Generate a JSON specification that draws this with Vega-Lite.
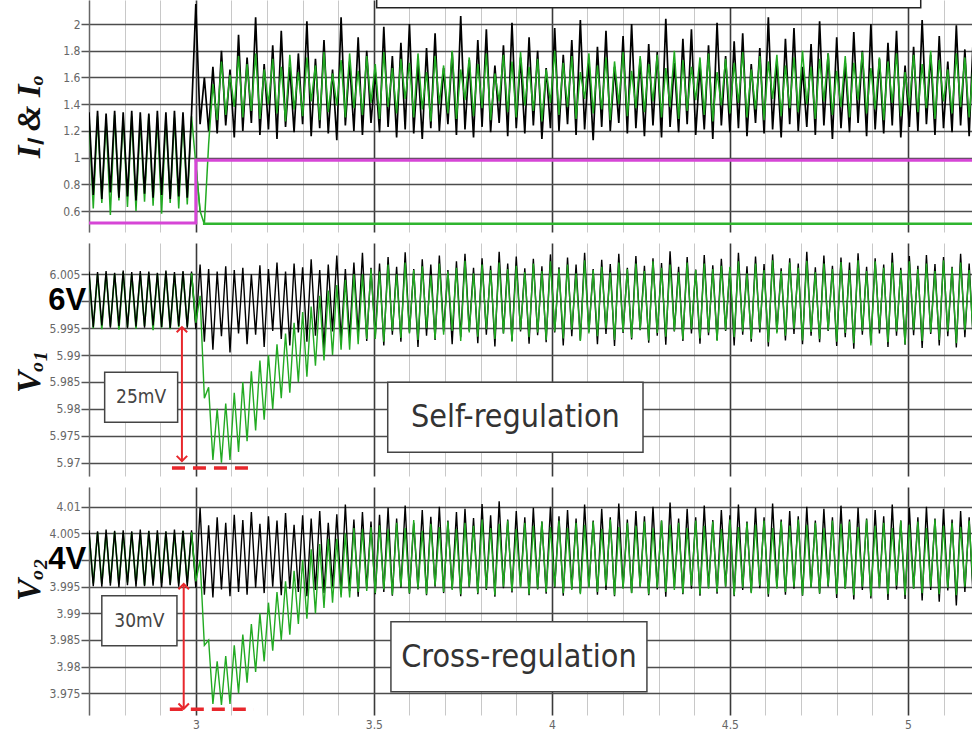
{
"$schema":"https://vega.github.io/schema/vega-lite/v6.json",
"background":"#ffffff",
"padding":{"left":13,"top":0,"right":0,"bottom":0},
"spacing":11,
"config":{
 "view":{"stroke":null},
 "axisY":{"labelFont":"DejaVu Sans Condensed, sans-serif","labelFontSize":12,"labelColor":"#666666","labelPadding":1,"tickColor":"#555555","tickSize":8,"tickWidth":1.5,"gridColor":"#4d4d4d","gridWidth":1.5,"domainColor":"#666666","domainWidth":1.5,"titleFont":"Liberation Serif","titleFontStyle":"italic","titleFontWeight":"bold","titleFontSize":33,"titleColor":"#111111","titleX":-60,"titleBaseline":"middle","labelOverlap":false},
 "axisX":{"labelFont":"DejaVu Sans Condensed, sans-serif","labelFontSize":12,"labelColor":"#666666","labelPadding":4,"ticks":false,"domain":false,"labelOverlap":false,"labelFlush":false,"title":null}
},
"datasets":{
"w":[
{"t":2.7,"a":1.34,"b":1.3,"c":6.0055,"d":6.0052,"e":4.0056,"f":4.0051},
{"t":2.712,"a":0.72,"b":0.62,"c":5.9952,"d":5.995,"e":3.9951,"f":3.9956},
{"t":2.724,"a":1.35,"b":1.31,"c":6.0054,"d":6.005,"e":4.0054,"f":4.0052},
{"t":2.736,"a":0.69,"b":0.66,"c":5.9955,"d":5.9948,"e":3.995,"f":3.9955},
{"t":2.748,"a":1.33,"b":1.29,"c":6.0056,"d":6.0053,"e":4.0057,"f":4.005},
{"t":2.76,"a":0.74,"b":0.57,"c":5.9951,"d":5.9953,"e":3.9952,"f":3.9957},
{"t":2.772,"a":1.35,"b":1.32,"c":6.0053,"d":6.0051,"e":4.0055,"f":4.0053},
{"t":2.784,"a":0.7,"b":0.68,"c":5.9954,"d":5.9947,"e":3.9949,"f":3.9954},
{"t":2.796,"a":1.34,"b":1.3,"c":6.0057,"d":6.0054,"e":4.0056,"f":4.0051},
{"t":2.808,"a":0.71,"b":0.63,"c":5.995,"d":5.9952,"e":3.9953,"f":3.9958},
{"t":2.82,"a":1.35,"b":1.31,"c":6.0054,"d":6.005,"e":4.0054,"f":4.0052},
{"t":2.832,"a":0.68,"b":0.6,"c":5.9953,"d":5.9949,"e":3.995,"f":3.9955},
{"t":2.844,"a":1.34,"b":1.29,"c":6.0056,"d":6.0052,"e":4.0057,"f":4.005},
{"t":2.856,"a":0.73,"b":0.67,"c":5.9951,"d":5.9954,"e":3.9951,"f":3.9953},
{"t":2.868,"a":1.33,"b":1.32,"c":6.0055,"d":6.0053,"e":4.0055,"f":4.0054},
{"t":2.88,"a":0.7,"b":0.64,"c":5.9955,"d":5.9946,"e":3.9952,"f":3.9956},
{"t":2.892,"a":1.35,"b":1.3,"c":6.0053,"d":6.0051,"e":4.0056,"f":4.0051},
{"t":2.904,"a":0.72,"b":0.58,"c":5.9952,"d":5.9951,"e":3.9949,"f":3.9957},
{"t":2.916,"a":1.34,"b":1.31,"c":6.0057,"d":6.0055,"e":4.0054,"f":4.0053},
{"t":2.928,"a":0.69,"b":0.66,"c":5.995,"d":5.9948,"e":3.9953,"f":3.9954},
{"t":2.94,"a":1.35,"b":1.3,"c":6.0054,"d":6.005,"e":4.0057,"f":4.005},
{"t":2.952,"a":0.71,"b":0.62,"c":5.9954,"d":5.9952,"e":3.995,"f":3.9956},
{"t":2.964,"a":1.34,"b":1.29,"c":6.0056,"d":6.0054,"e":4.0055,"f":4.0055},
{"t":2.976,"a":0.7,"b":0.65,"c":5.9951,"d":5.9953,"e":3.9951,"f":3.9958},
{"t":2.988,"a":1.33,"b":1.31,"c":6.0055,"d":6.0052,"e":4.0056,"f":4.0052},
{"t":3.0,"a":2.15,"b":0.95,"c":5.9948,"d":5.996,"e":3.9948,"f":3.996},
{"t":3.012,"a":1.25,"b":0.6,"c":6.0068,"d":6.001,"e":4.0098,"f":4.0},
{"t":3.024,"a":1.6,"b":0.5,"c":5.9925,"d":5.982,"e":3.9935,"f":3.984},
{"t":3.036,"a":1.2,"b":1.1,"c":6.006,"d":5.984,"e":4.0065,"f":3.985},
{"t":3.048,"a":1.68,"b":1.55,"c":5.991,"d":5.9705,"e":3.993,"f":3.973},
{"t":3.06,"a":1.18,"b":1.28,"c":6.0055,"d":5.98,"e":4.008,"f":3.981},
{"t":3.072,"a":1.8,"b":1.72,"c":5.9935,"d":5.97,"e":3.9945,"f":3.9728},
{"t":3.084,"a":1.24,"b":1.32,"c":6.0065,"d":5.981,"e":4.007,"f":3.982},
{"t":3.096,"a":1.66,"b":1.62,"c":5.9905,"d":5.9705,"e":3.9932,"f":3.973},
{"t":3.108,"a":1.15,"b":1.38,"c":6.0058,"d":5.983,"e":4.0085,"f":3.984},
{"t":3.12,"a":1.92,"b":1.76,"c":5.994,"d":5.972,"e":3.994,"f":3.975},
{"t":3.132,"a":1.2,"b":1.3,"c":6.0062,"d":5.985,"e":4.0075,"f":3.986},
{"t":3.144,"a":1.75,"b":1.7,"c":5.992,"d":5.974,"e":3.9935,"f":3.977},
{"t":3.156,"a":1.26,"b":1.35,"c":6.005,"d":5.987,"e":4.009,"f":3.988},
{"t":3.168,"a":2.05,"b":1.78,"c":5.9938,"d":5.976,"e":3.9948,"f":3.979},
{"t":3.18,"a":1.17,"b":1.29,"c":6.0067,"d":5.989,"e":4.0068,"f":3.99},
{"t":3.192,"a":1.7,"b":1.66,"c":5.9915,"d":5.978,"e":3.9938,"f":3.981},
{"t":3.204,"a":1.21,"b":1.4,"c":6.006,"d":5.99,"e":4.0082,"f":3.992},
{"t":3.216,"a":1.84,"b":1.74,"c":5.9945,"d":5.98,"e":3.995,"f":3.983},
{"t":3.228,"a":1.14,"b":1.33,"c":6.0072,"d":5.992,"e":4.0074,"f":3.994},
{"t":3.24,"a":1.95,"b":1.68,"c":5.993,"d":5.982,"e":3.9934,"f":3.985},
{"t":3.252,"a":1.23,"b":1.27,"c":6.0055,"d":5.994,"e":4.0088,"f":3.996},
{"t":3.264,"a":1.68,"b":1.77,"c":5.9918,"d":5.983,"e":3.9946,"f":3.986},
{"t":3.276,"a":1.19,"b":1.36,"c":6.007,"d":5.996,"e":4.0066,"f":3.998},
{"t":3.288,"a":1.78,"b":1.64,"c":5.9942,"d":5.985,"e":3.994,"f":3.988},
{"t":3.3,"a":1.25,"b":1.31,"c":6.0063,"d":5.998,"e":4.0084,"f":4.0},
{"t":3.312,"a":2.02,"b":1.75,"c":5.9925,"d":5.986,"e":3.9932,"f":3.989},
{"t":3.324,"a":1.16,"b":1.42,"c":6.0078,"d":5.999,"e":4.0078,"f":4.002},
{"t":3.336,"a":1.74,"b":1.69,"c":5.9936,"d":5.988,"e":3.9944,"f":3.99},
{"t":3.348,"a":1.22,"b":1.28,"c":6.0058,"d":6.001,"e":4.0092,"f":4.003},
{"t":3.36,"a":1.88,"b":1.79,"c":5.9912,"d":5.989,"e":3.9938,"f":3.991},
{"t":3.372,"a":1.18,"b":1.34,"c":6.0068,"d":6.002,"e":4.007,"f":4.004},
{"t":3.384,"a":1.66,"b":1.63,"c":5.9944,"d":5.99,"e":3.995,"f":3.992},
{"t":3.396,"a":1.13,"b":1.39,"c":6.0085,"d":6.003,"e":4.0086,"f":4.004},
{"t":3.408,"a":2.05,"b":1.73,"c":5.9928,"d":5.991,"e":3.9936,"f":3.993},
{"t":3.42,"a":1.24,"b":1.3,"c":6.006,"d":6.004,"e":4.0104,"f":4.005},
{"t":3.432,"a":1.72,"b":1.78,"c":5.9932,"d":5.991,"e":3.9942,"f":3.993},
{"t":3.444,"a":1.2,"b":1.37,"c":6.0072,"d":6.005,"e":4.0076,"f":4.006},
{"t":3.456,"a":1.9,"b":1.65,"c":5.994,"d":5.992,"e":3.9931,"f":3.994},
{"t":3.468,"a":1.17,"b":1.32,"c":6.009,"d":6.005,"e":4.009,"f":4.0058},
{"t":3.48,"a":1.8,"b":1.76,"c":5.9926,"d":5.993,"e":3.9947,"f":3.9942},
{"t":3.492,"a":1.26,"b":1.41,"c":6.0062,"d":6.006,"e":4.0072,"f":4.0062},
{"t":3.504,"a":1.64,"b":1.7,"c":5.9935,"d":5.993,"e":3.9936,"f":3.9938},
{"t":3.516,"a":1.19,"b":1.29,"c":6.007,"d":6.0055,"e":4.0085,"f":4.0065},
{"t":3.528,"a":1.98,"b":1.79,"c":5.9918,"d":5.9925,"e":3.994,"f":3.9945},
{"t":3.54,"a":1.23,"b":1.38,"c":6.0082,"d":6.0068,"e":4.0098,"f":4.0058},
{"t":3.552,"a":1.76,"b":1.67,"c":5.9938,"d":5.9945,"e":3.9933,"f":3.9935},
{"t":3.564,"a":1.15,"b":1.33,"c":6.0064,"d":6.005,"e":4.0078,"f":4.007},
{"t":3.576,"a":1.86,"b":1.74,"c":5.9925,"d":5.9932,"e":3.9948,"f":3.995},
{"t":3.588,"a":1.21,"b":1.44,"c":6.0091,"d":6.0072,"e":4.0102,"f":4.006},
{"t":3.6,"a":2.0,"b":1.71,"c":5.9942,"d":5.994,"e":3.9937,"f":3.9938},
{"t":3.612,"a":1.18,"b":1.3,"c":6.006,"d":6.0058,"e":4.007,"f":4.0075},
{"t":3.624,"a":1.7,"b":1.78,"c":5.9915,"d":5.9928,"e":3.9945,"f":3.9946},
{"t":3.636,"a":1.14,"b":1.36,"c":6.0078,"d":6.0065,"e":4.0094,"f":4.0055},
{"t":3.648,"a":1.82,"b":1.64,"c":5.9936,"d":5.995,"e":3.9934,"f":3.9936},
{"t":3.66,"a":1.22,"b":1.27,"c":6.0068,"d":6.0048,"e":4.0081,"f":4.0068},
{"t":3.672,"a":1.93,"b":1.76,"c":5.9928,"d":5.993,"e":3.995,"f":3.9952},
{"t":3.684,"a":1.2,"b":1.4,"c":6.0085,"d":6.007,"e":4.01,"f":4.0062},
{"t":3.696,"a":1.67,"b":1.69,"c":5.9944,"d":5.9938,"e":3.9938,"f":3.994},
{"t":3.708,"a":1.25,"b":1.33,"c":6.0058,"d":6.0055,"e":4.0074,"f":4.0072},
{"t":3.72,"a":1.79,"b":1.8,"c":5.992,"d":5.9945,"e":3.9946,"f":3.9944},
{"t":3.732,"a":1.17,"b":1.29,"c":6.0074,"d":6.0062,"e":4.009,"f":4.0058},
{"t":3.744,"a":2.06,"b":1.66,"c":5.9933,"d":5.9926,"e":3.9932,"f":3.9936},
{"t":3.756,"a":1.21,"b":1.43,"c":6.0088,"d":6.0075,"e":4.0096,"f":4.007},
{"t":3.768,"a":1.73,"b":1.75,"c":5.9945,"d":5.9942,"e":3.9949,"f":3.995},
{"t":3.78,"a":1.15,"b":1.31,"c":6.0062,"d":6.0052,"e":4.0079,"f":4.0064},
{"t":3.792,"a":1.88,"b":1.7,"c":5.9922,"d":5.9934,"e":3.9936,"f":3.9938},
{"t":3.804,"a":1.23,"b":1.37,"c":6.008,"d":6.0068,"e":4.0105,"f":4.0076},
{"t":3.816,"a":1.96,"b":1.78,"c":5.9938,"d":5.9948,"e":3.9944,"f":3.9946},
{"t":3.828,"a":1.19,"b":1.28,"c":6.0066,"d":6.0058,"e":4.0084,"f":4.006},
{"t":3.84,"a":1.69,"b":1.63,"c":5.9916,"d":5.993,"e":3.9931,"f":3.9934},
{"t":3.852,"a":1.26,"b":1.42,"c":6.0092,"d":6.0072,"e":4.011,"f":4.0068},
{"t":3.864,"a":1.84,"b":1.77,"c":5.994,"d":5.994,"e":3.9947,"f":3.995},
{"t":3.876,"a":1.16,"b":1.34,"c":6.007,"d":6.006,"e":4.0076,"f":4.0074},
{"t":3.888,"a":2.01,"b":1.72,"c":5.9926,"d":5.9925,"e":3.9939,"f":3.9942},
{"t":3.9,"a":1.22,"b":1.3,"c":6.0083,"d":6.0066,"e":4.0092,"f":4.0058},
{"t":3.912,"a":1.75,"b":1.79,"c":5.9944,"d":5.9946,"e":3.995,"f":3.9948},
{"t":3.924,"a":1.18,"b":1.39,"c":6.0061,"d":6.0054,"e":4.008,"f":4.007},
{"t":3.936,"a":1.9,"b":1.68,"c":5.9921,"d":5.9933,"e":3.9934,"f":3.9936},
{"t":3.948,"a":1.24,"b":1.35,"c":6.0079,"d":6.007,"e":4.0098,"f":4.0064},
{"t":3.96,"a":1.8,"b":1.74,"c":5.9937,"d":5.9942,"e":3.9945,"f":3.9946},
{"t":3.972,"a":1.14,"b":1.27,"c":6.0065,"d":6.0056,"e":4.0072,"f":4.0072},
{"t":3.984,"a":1.67,"b":1.66,"c":5.9924,"d":5.9928,"e":3.9937,"f":3.994},
{"t":3.996,"a":1.22,"b":1.41,"c":6.0087,"d":6.0074,"e":4.01,"f":4.0062},
{"t":4.008,"a":1.97,"b":1.8,"c":5.9942,"d":5.9944,"e":3.9948,"f":3.995},
{"t":4.02,"a":1.2,"b":1.32,"c":6.0063,"d":6.006,"e":4.0082,"f":4.0074},
{"t":4.032,"a":1.77,"b":1.71,"c":5.9918,"d":5.9931,"e":3.9933,"f":3.9938},
{"t":4.044,"a":1.25,"b":1.38,"c":6.0081,"d":6.0068,"e":4.0094,"f":4.006},
{"t":4.056,"a":1.88,"b":1.76,"c":5.9935,"d":5.9947,"e":3.9946,"f":3.9944},
{"t":4.068,"a":1.17,"b":1.29,"c":6.0068,"d":6.0052,"e":4.0078,"f":4.007},
{"t":4.08,"a":2.03,"b":1.64,"c":5.9927,"d":5.9926,"e":3.9938,"f":3.9936},
{"t":4.092,"a":1.21,"b":1.44,"c":6.009,"d":6.0076,"e":4.0104,"f":4.0066},
{"t":4.104,"a":1.72,"b":1.78,"c":5.9943,"d":5.994,"e":3.995,"f":3.9948},
{"t":4.116,"a":1.13,"b":1.33,"c":6.006,"d":6.0058,"e":4.0074,"f":4.0072},
{"t":4.128,"a":1.83,"b":1.69,"c":5.992,"d":5.9935,"e":3.9935,"f":3.994},
{"t":4.14,"a":1.23,"b":1.36,"c":6.0077,"d":6.0064,"e":4.0096,"f":4.0058},
{"t":4.152,"a":1.95,"b":1.75,"c":5.9939,"d":5.995,"e":3.9944,"f":3.9952},
{"t":4.164,"a":1.2,"b":1.28,"c":6.0069,"d":6.0054,"e":4.008,"f":4.0076},
{"t":4.176,"a":1.68,"b":1.72,"c":5.9917,"d":5.9928,"e":3.9932,"f":3.9934},
{"t":4.188,"a":1.26,"b":1.4,"c":6.0088,"d":6.0072,"e":4.0106,"f":4.0062},
{"t":4.2,"a":1.91,"b":1.79,"c":5.9941,"d":5.9943,"e":3.9947,"f":3.9946},
{"t":4.212,"a":1.18,"b":1.31,"c":6.0062,"d":6.006,"e":4.0076,"f":4.007},
{"t":4.224,"a":2.0,"b":1.65,"c":5.9929,"d":5.9932,"e":3.9938,"f":3.9938},
{"t":4.236,"a":1.22,"b":1.37,"c":6.0084,"d":6.007,"e":4.0092,"f":4.0064},
{"t":4.248,"a":1.74,"b":1.76,"c":5.9946,"d":5.9947,"e":3.995,"f":3.995},
{"t":4.26,"a":1.16,"b":1.34,"c":6.0066,"d":6.0056,"e":4.0082,"f":4.0072},
{"t":4.272,"a":1.85,"b":1.7,"c":5.9923,"d":5.9927,"e":3.9934,"f":3.9936},
{"t":4.284,"a":1.24,"b":1.42,"c":6.008,"d":6.0074,"e":4.01,"f":4.006},
{"t":4.296,"a":1.79,"b":1.77,"c":5.9936,"d":5.9941,"e":3.9945,"f":3.9948},
{"t":4.308,"a":1.15,"b":1.3,"c":6.0071,"d":6.0062,"e":4.0074,"f":4.0074},
{"t":4.32,"a":2.04,"b":1.67,"c":5.9919,"d":5.9934,"e":3.9931,"f":3.994},
{"t":4.332,"a":1.23,"b":1.38,"c":6.0093,"d":6.0068,"e":4.0108,"f":4.0066},
{"t":4.344,"a":1.71,"b":1.8,"c":5.9944,"d":5.9945,"e":3.9948,"f":3.9944},
{"t":4.356,"a":1.19,"b":1.29,"c":6.0064,"d":6.0054,"e":4.0078,"f":4.007},
{"t":4.368,"a":1.89,"b":1.73,"c":5.9926,"d":5.9929,"e":3.9936,"f":3.9938},
{"t":4.38,"a":1.25,"b":1.35,"c":6.0082,"d":6.0072,"e":4.0096,"f":4.006},
{"t":4.392,"a":1.96,"b":1.68,"c":5.994,"d":5.9948,"e":3.9946,"f":3.9952},
{"t":4.404,"a":1.17,"b":1.43,"c":6.0059,"d":6.0058,"e":4.008,"f":4.0074},
{"t":4.416,"a":1.69,"b":1.75,"c":5.9921,"d":5.9931,"e":3.9933,"f":3.9936},
{"t":4.428,"a":1.21,"b":1.32,"c":6.0086,"d":6.007,"e":4.0102,"f":4.0064},
{"t":4.44,"a":1.84,"b":1.78,"c":5.9937,"d":5.9942,"e":3.9949,"f":3.9946},
{"t":4.452,"a":1.14,"b":1.27,"c":6.0067,"d":6.006,"e":4.0075,"f":4.0072},
{"t":4.464,"a":2.01,"b":1.64,"c":5.9928,"d":5.9926,"e":3.9937,"f":3.994},
{"t":4.476,"a":1.24,"b":1.39,"c":6.0079,"d":6.0066,"e":4.0094,"f":4.0058},
{"t":4.488,"a":1.76,"b":1.74,"c":5.9945,"d":5.9946,"e":3.995,"f":3.995},
{"t":4.5,"a":1.19,"b":1.33,"c":6.0062,"d":6.0064,"e":4.0084,"f":4.0076},
{"t":4.512,"a":1.87,"b":1.71,"c":5.9918,"d":5.9933,"e":3.9932,"f":3.9934},
{"t":4.524,"a":1.22,"b":1.41,"c":6.009,"d":6.0074,"e":4.0104,"f":4.0062},
{"t":4.536,"a":1.93,"b":1.79,"c":5.9938,"d":5.9944,"e":3.9944,"f":3.9948},
{"t":4.548,"a":1.16,"b":1.3,"c":6.0065,"d":6.0052,"e":4.0072,"f":4.007},
{"t":4.56,"a":1.7,"b":1.66,"c":5.9925,"d":5.993,"e":3.9939,"f":3.9938},
{"t":4.572,"a":1.26,"b":1.36,"c":6.0083,"d":6.007,"e":4.0098,"f":4.0066},
{"t":4.584,"a":1.82,"b":1.76,"c":5.9942,"d":5.9948,"e":3.9947,"f":3.9952},
{"t":4.596,"a":1.18,"b":1.28,"c":6.0069,"d":6.0058,"e":4.008,"f":4.0074},
{"t":4.608,"a":2.05,"b":1.72,"c":5.9916,"d":5.9924,"e":3.9931,"f":3.9936},
{"t":4.62,"a":1.21,"b":1.44,"c":6.0087,"d":6.0076,"e":4.0106,"f":4.006},
{"t":4.632,"a":1.73,"b":1.77,"c":5.9943,"d":5.994,"e":3.9949,"f":3.9946},
{"t":4.644,"a":1.15,"b":1.31,"c":6.0061,"d":6.0056,"e":4.0076,"f":4.0072},
{"t":4.656,"a":1.89,"b":1.69,"c":5.9927,"d":5.9936,"e":3.9935,"f":3.994},
{"t":4.668,"a":1.25,"b":1.37,"c":6.008,"d":6.0072,"e":4.0092,"f":4.0064},
{"t":4.68,"a":1.97,"b":1.75,"c":5.9939,"d":5.9949,"e":3.9946,"f":3.995},
{"t":4.692,"a":1.2,"b":1.34,"c":6.007,"d":6.0062,"e":4.0082,"f":4.0076},
{"t":4.704,"a":1.68,"b":1.8,"c":5.992,"d":5.9927,"e":3.9933,"f":3.9934},
{"t":4.716,"a":1.23,"b":1.4,"c":6.0092,"d":6.0075,"e":4.01,"f":4.0066},
{"t":4.728,"a":1.85,"b":1.68,"c":5.9936,"d":5.9943,"e":3.9948,"f":3.9948},
{"t":4.74,"a":1.17,"b":1.29,"c":6.0063,"d":6.0054,"e":4.0074,"f":4.007},
{"t":4.752,"a":2.02,"b":1.74,"c":5.9924,"d":5.993,"e":3.9937,"f":3.9938},
{"t":4.764,"a":1.24,"b":1.42,"c":6.0085,"d":6.007,"e":4.0096,"f":4.006},
{"t":4.776,"a":1.78,"b":1.78,"c":5.9945,"d":5.9946,"e":3.995,"f":3.9952},
{"t":4.788,"a":1.14,"b":1.32,"c":6.0066,"d":6.006,"e":4.008,"f":4.0074},
{"t":4.8,"a":1.9,"b":1.65,"c":5.9917,"d":5.9925,"e":3.9929,"f":3.9936},
{"t":4.812,"a":1.22,"b":1.38,"c":6.0081,"d":6.0073,"e":4.0102,"f":4.0068},
{"t":4.824,"a":1.71,"b":1.76,"c":5.9933,"d":5.9941,"e":3.9946,"f":3.9946},
{"t":4.836,"a":1.19,"b":1.3,"c":6.0072,"d":6.0058,"e":4.0076,"f":4.0072},
{"t":4.848,"a":1.94,"b":1.71,"c":5.9912,"d":5.9922,"e":3.9926,"f":3.9934},
{"t":4.86,"a":1.26,"b":1.43,"c":6.0089,"d":6.0076,"e":4.0098,"f":4.0062},
{"t":4.872,"a":1.8,"b":1.79,"c":5.9938,"d":5.9945,"e":3.9944,"f":3.995},
{"t":4.884,"a":1.16,"b":1.33,"c":6.0064,"d":6.0056,"e":4.0078,"f":4.0076},
{"t":4.896,"a":2.0,"b":1.67,"c":5.9922,"d":5.9918,"e":3.9928,"f":3.9932},
{"t":4.908,"a":1.21,"b":1.36,"c":6.008,"d":6.0074,"e":4.0094,"f":4.0064},
{"t":4.92,"a":1.74,"b":1.75,"c":5.994,"d":5.9947,"e":3.9947,"f":3.9948},
{"t":4.932,"a":1.18,"b":1.28,"c":6.0068,"d":6.0062,"e":4.0082,"f":4.007},
{"t":4.944,"a":1.86,"b":1.72,"c":5.9915,"d":5.9924,"e":3.9925,"f":3.9936},
{"t":4.956,"a":1.24,"b":1.41,"c":6.009,"d":6.0072,"e":4.0104,"f":4.006},
{"t":4.968,"a":1.95,"b":1.78,"c":5.9936,"d":5.9944,"e":3.9945,"f":3.9952},
{"t":4.98,"a":1.15,"b":1.31,"c":6.0062,"d":6.0058,"e":4.0074,"f":4.0074},
{"t":4.992,"a":1.69,"b":1.64,"c":5.9919,"d":5.992,"e":3.9927,"f":3.9934},
{"t":5.004,"a":1.23,"b":1.39,"c":6.0084,"d":6.0074,"e":4.0098,"f":4.0066},
{"t":5.016,"a":1.83,"b":1.77,"c":5.9937,"d":5.9946,"e":3.9946,"f":3.9946},
{"t":5.028,"a":1.2,"b":1.34,"c":6.0066,"d":6.006,"e":4.008,"f":4.0072},
{"t":5.04,"a":2.03,"b":1.7,"c":5.9913,"d":5.9926,"e":3.9924,"f":3.9938},
{"t":5.052,"a":1.25,"b":1.37,"c":6.0086,"d":6.007,"e":4.01,"f":4.006},
{"t":5.064,"a":1.77,"b":1.8,"c":5.9939,"d":5.9942,"e":3.9944,"f":3.995},
{"t":5.076,"a":1.17,"b":1.29,"c":6.0069,"d":6.0056,"e":4.0078,"f":4.0076},
{"t":5.088,"a":1.91,"b":1.73,"c":5.9918,"d":5.9928,"e":3.9922,"f":3.9936},
{"t":5.1,"a":1.22,"b":1.42,"c":6.0082,"d":6.0076,"e":4.0096,"f":4.0064},
{"t":5.112,"a":1.72,"b":1.66,"c":5.9935,"d":5.9944,"e":3.9943,"f":3.9948},
{"t":5.124,"a":1.19,"b":1.33,"c":6.0064,"d":6.0062,"e":4.0076,"f":4.007},
{"t":5.136,"a":1.99,"b":1.78,"c":5.9914,"d":5.9922,"e":3.9915,"f":3.9934},
{"t":5.148,"a":1.24,"b":1.38,"c":6.0088,"d":6.0072,"e":4.0092,"f":4.0062},
{"t":5.16,"a":1.81,"b":1.75,"c":5.9933,"d":5.9946,"e":3.994,"f":3.995},
{"t":5.172,"a":1.16,"b":1.3,"c":6.007,"d":6.0058,"e":4.008,"f":4.0074},
{"t":5.184,"a":1.94,"b":1.71,"c":5.992,"d":5.9926,"e":3.9918,"f":3.9936}
],
"mg":[{"t":2.7,"v":0.51,"o":1},{"t":3.0,"v":0.51,"o":2},{"t":3.0,"v":0.98,"o":3},{"t":5.18,"v":0.98,"o":4}],
"fg":[{"t":3.02,"v":0.505},{"t":5.18,"v":0.505}]
},
"vconcat":[
{
"width":883,"height":232,
"encoding":{
 "x":{"field":"t","type":"quantitative","scale":{"domain":[2.7,5.18],"nice":false,"zero":false},
 "axis":{"values":[2.7,2.8,2.9,3,3.1,3.2,3.3,3.4,3.5,3.6,3.7,3.8,3.9,4,4.1,4.2,4.3,4.4,4.5,4.6,4.7,4.8,4.9,5,5.1],"labels":false,"grid":true,
 "gridColor":{"condition":{"test":"abs(datum.value*2-round(datum.value*2))<0.01","value":"#3a3a3a"},"value":"#c8c8c8"},
 "gridWidth":{"condition":{"test":"abs(datum.value*2-round(datum.value*2))<0.01","value":1.6},"value":1}}},
 "y":{"field":"v","type":"quantitative","scale":{"domain":[0.443,2.18],"nice":false,"zero":false},
  "axis":{"values":[0.6,0.8,1,1.2,1.4,1.6,1.8,2],"format":".1~f","title":"Iₗ & Iₒ","titleY":116}}
},
"layer":[
 {"data":{"name":"w"},"transform":[{"filter":"datum.t <= 3.02"},{"fold":["b"],"as":["s","v"]}],"mark":{"type":"line","color":"#22aa22","strokeWidth":1.5,"clip":true}},
 {"data":{"name":"w"},"transform":[{"fold":["a"],"as":["s","v"]}],"mark":{"type":"line","color":"#000000","strokeWidth":1.7,"clip":true}},
 {"data":{"name":"w"},"transform":[{"filter":"datum.t >= 2.99"},{"fold":["b"],"as":["s","v"]}],"mark":{"type":"line","color":"#22aa22","strokeWidth":1.5,"clip":true}},
 {"data":{"name":"fg"},"mark":{"type":"line","color":"#2fb52f","strokeWidth":2.5,"clip":true}},
 {"data":{"name":"mg"},"mark":{"type":"line","color":"#d646d6","strokeWidth":3,"clip":true},"encoding":{"order":{"field":"o","type":"quantitative"}}},
 {"data":{"values":[{"t":3.508,"t2":5.036,"v":2.122,"v2":2.4}]},"mark":{"type":"rect","fill":"#ffffff","stroke":"#222222","strokeWidth":1.5,"clip":true},
  "encoding":{"x2":{"field":"t2"},"y2":{"field":"v2"}}}
]
},
{
"width":883,"height":233,
"encoding":{
 "x":{"field":"t","type":"quantitative","scale":{"domain":[2.7,5.18],"nice":false,"zero":false},
 "axis":{"values":[2.7,2.8,2.9,3,3.1,3.2,3.3,3.4,3.5,3.6,3.7,3.8,3.9,4,4.1,4.2,4.3,4.4,4.5,4.6,4.7,4.8,4.9,5,5.1],"labels":false,"grid":true,
 "gridColor":{"condition":{"test":"abs(datum.value*2-round(datum.value*2))<0.01","value":"#3a3a3a"},"value":"#c8c8c8"},
 "gridWidth":{"condition":{"test":"abs(datum.value*2-round(datum.value*2))<0.01","value":1.6},"value":1}}},
 "y":{"field":"v","type":"quantitative","scale":{"domain":[5.96753,6.01082],"nice":false,"zero":false},
  "axis":{"values":[5.97,5.975,5.98,5.985,5.99,5.995,6,6.005],"format":".3~f","labelExpr":"abs(datum.value-6)<0.0001 ? '' : datum.label","title":"Vₒ₁","titleY":128}}
},
"layer":[
 {"data":{"name":"w"},"transform":[{"filter":"datum.t <= 3.0"},{"fold":["d"],"as":["s","v"]}],"mark":{"type":"line","color":"#22aa22","strokeWidth":1.6,"clip":true}},
 {"data":{"name":"w"},"transform":[{"fold":["c"],"as":["s","v"]}],"mark":{"type":"line","color":"#000000","strokeWidth":1.4,"clip":true}},
 {"data":{"name":"w"},"transform":[{"filter":"datum.t >= 2.988"},{"fold":["d"],"as":["s","v"]}],"mark":{"type":"line","color":"#22aa22","strokeWidth":1.4,"clip":true}},
 {"data":{"values":[{"t":2.744,"t2":2.949,"v":5.9868,"v2":5.9775},{"t":3.539,"t2":4.256,"v":5.98495,"v2":5.97195}]},"mark":{"type":"rect","fill":"#ffffff","stroke":"#444444","strokeWidth":1.5},
  "encoding":{"x2":{"field":"t2"},"y2":{"field":"v2"}}},
 {"data":{"values":[{"t":2.8465,"v":5.98215,"label":"25mV"}]},"mark":{"type":"text","font":"DejaVu Sans Condensed, sans-serif","fontSize":19,"color":"#444444","align":"center","baseline":"middle"},
  "encoding":{"text":{"field":"label"}}},
 {"data":{"values":[{"t":3.8975,"v":5.97845,"label":"Self-regulation"}]},"mark":{"type":"text","font":"DejaVu Sans Condensed, sans-serif","fontSize":32,"color":"#333333","align":"center","baseline":"middle"},
  "encoding":{"text":{"field":"label"}}},
 {"data":{"values":[{"t":2.961,"v":5.9952,"v2":5.9703}]},"mark":{"type":"rule","color":"#e8272c","strokeWidth":2},
  "encoding":{"y2":{"field":"v2"}}},
 {"data":{"values":[{"t":2.961,"v":5.9952}]},"mark":{"type":"point","shape":"M-1,1L0,0L1,1","size":110,"filled":false,"stroke":"#e8272c","strokeWidth":2,"opacity":1}},
 {"data":{"values":[{"t":2.961,"v":5.9703}]},"mark":{"type":"point","shape":"M-1,-1L0,0L1,-1","size":110,"filled":false,"stroke":"#e8272c","strokeWidth":2,"opacity":1}},
 {"data":{"values":[{"t":2.933,"t2":3.163,"v":5.969}]},"mark":{"type":"rule","color":"#e8272c","strokeWidth":3.5,"strokeDash":[13,8]},
  "encoding":{"x2":{"field":"t2"}}},
 {"data":{"values":[{"t":2.692,"v":6.0,"label":"6V"}]},"mark":{"type":"text","font":"Liberation Sans","fontWeight":"bold","fontSize":31,"color":"#000000","align":"right","baseline":"middle"},
  "encoding":{"text":{"field":"label"}}}
]
},
{
"width":883,"height":228,
"encoding":{
 "x":{"field":"t","type":"quantitative","scale":{"domain":[2.7,5.18],"nice":false,"zero":false},
 "axis":{"values":[2.7,2.8,2.9,3,3.1,3.2,3.3,3.4,3.5,3.6,3.7,3.8,3.9,4,4.1,4.2,4.3,4.4,4.5,4.6,4.7,4.8,4.9,5,5.1],"format":"~g","labelExpr":"abs(datum.value*2-round(datum.value*2))<0.01 ? datum.label : ''","grid":true,
 "gridColor":{"condition":{"test":"abs(datum.value*2-round(datum.value*2))<0.01","value":"#3a3a3a"},"value":"#c8c8c8"},
 "gridWidth":{"condition":{"test":"abs(datum.value*2-round(datum.value*2))<0.01","value":1.6},"value":1}}},
 "y":{"field":"v","type":"quantitative","scale":{"domain":[3.97093,4.0137],"nice":false,"zero":false},
  "axis":{"values":[3.975,3.98,3.985,3.99,3.995,4,4.005,4.01],"format":".3~f","labelExpr":"abs(datum.value-4)<0.0001 ? '' : datum.label","title":"Vₒ₂","titleY":92}}
},
"layer":[
 {"data":{"name":"w"},"transform":[{"filter":"datum.t <= 3.0"},{"fold":["f"],"as":["s","v"]}],"mark":{"type":"line","color":"#22aa22","strokeWidth":1.6,"clip":true}},
 {"data":{"name":"w"},"transform":[{"fold":["e"],"as":["s","v"]}],"mark":{"type":"line","color":"#000000","strokeWidth":1.4,"clip":true}},
 {"data":{"name":"w"},"transform":[{"filter":"datum.t >= 2.988"},{"fold":["f"],"as":["s","v"]}],"mark":{"type":"line","color":"#22aa22","strokeWidth":1.4,"clip":true}},
 {"data":{"values":[{"t":2.736,"t2":2.947,"v":3.9933,"v2":3.9839},{"t":3.548,"t2":4.267,"v":3.98842,"v2":3.97529}]},"mark":{"type":"rect","fill":"#ffffff","stroke":"#444444","strokeWidth":1.5},
  "encoding":{"x2":{"field":"t2"},"y2":{"field":"v2"}}},
 {"data":{"values":[{"t":2.8415,"v":3.9886,"label":"30mV"}]},"mark":{"type":"text","font":"DejaVu Sans Condensed, sans-serif","fontSize":19,"color":"#444444","align":"center","baseline":"middle"},
  "encoding":{"text":{"field":"label"}}},
 {"data":{"values":[{"t":3.9075,"v":3.98186,"label":"Cross-regulation"}]},"mark":{"type":"text","font":"DejaVu Sans Condensed, sans-serif","fontSize":32,"color":"#333333","align":"center","baseline":"middle"},
  "encoding":{"text":{"field":"label"}}},
 {"data":{"values":[{"t":2.966,"v":3.9955,"v2":3.9721}]},"mark":{"type":"rule","color":"#e8272c","strokeWidth":2},
  "encoding":{"y2":{"field":"v2"}}},
 {"data":{"values":[{"t":2.966,"v":3.9955}]},"mark":{"type":"point","shape":"M-1,1L0,0L1,1","size":110,"filled":false,"stroke":"#e8272c","strokeWidth":2,"opacity":1}},
 {"data":{"values":[{"t":2.966,"v":3.9721}]},"mark":{"type":"point","shape":"M-1,-1L0,0L1,-1","size":110,"filled":false,"stroke":"#e8272c","strokeWidth":2,"opacity":1}},
 {"data":{"values":[{"t":2.927,"t2":3.163,"v":3.972}]},"mark":{"type":"rule","color":"#e8272c","strokeWidth":3.5,"strokeDash":[13,8]},
  "encoding":{"x2":{"field":"t2"}}},
 {"data":{"values":[{"t":2.692,"v":4.0,"label":"4V"}]},"mark":{"type":"text","font":"Liberation Sans","fontWeight":"bold","fontSize":31,"color":"#000000","align":"right","baseline":"middle"},
  "encoding":{"text":{"field":"label"}}}
]
}
]
}
